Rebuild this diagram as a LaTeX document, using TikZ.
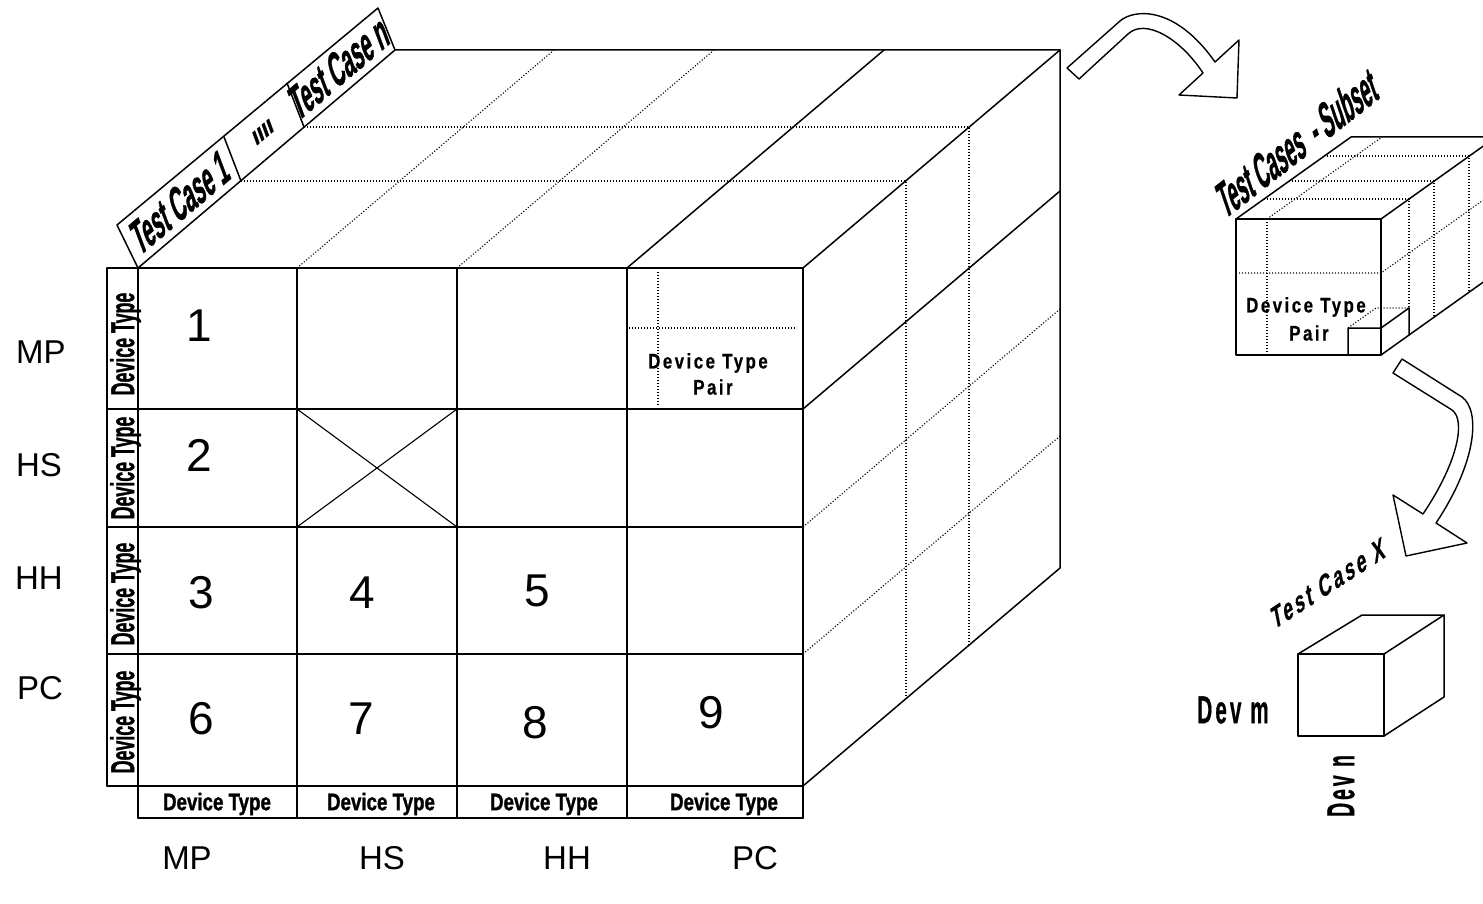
\documentclass[tikz,border=0pt]{standalone}
\usepackage{fontspec}
\setmainfont{Liberation Sans}
\newfontfamily\heavy[FakeBold=1.5]{Liberation Sans}
\newfontfamily\spaced[LetterSpace=15,FakeBold=0.8]{Liberation Sans}
\newcommand{\fsz}[1]{\fontsize{#1}{#1}\selectfont}
\begin{document}
\begin{tikzpicture}[x=1pt,y=-1pt,
  edge/.style={line width=1.5pt,line cap=round,line join=round},
  thinedge/.style={line width=1.1pt,line cap=round},
  dotl/.style={line width=1.1pt,dash pattern=on 1.1pt off 1.9pt},
  lab/.style={inner sep=0pt,font=\fsz{33}},
  num/.style={inner sep=0pt,font=\fsz{46}},
  vdt/.style={inner sep=0pt,rotate=90,xscale=0.54,font=\heavy\bfseries\fsz{33}},
  hdt/.style={inner sep=0pt,xscale=0.78,font=\heavy\bfseries\fsz{24}},
  pair/.style={inner sep=0pt,xscale=0.8,font=\spaced\bfseries\fsz{21}},
  tclab/.style={inner sep=0pt,rotate=40.3,xslant=0.36,xscale=0.5,font=\heavy\bfseries\fsz{44}},
  devlab/.style={inner sep=0pt,xscale=0.53,font=\spaced\bfseries\fsz{39}},
  devlabv/.style={inner sep=0pt,rotate=90,xscale=0.5,font=\spaced\bfseries\fsz{39}},
  blockarrow/.style={line width=1.4pt,line join=round,fill=white},
]
\fill[white] (0,0) rectangle (1483,904);
\useasboundingbox (0,0) rectangle (1483,904);
\clip (0,0) rectangle (1483,904);

% ---------------- main cube: front face ----------------
\foreach \yy in {268,409,527,654,786} \draw[edge] (107,\yy) -- (803,\yy);
\draw[edge] (138,818) -- (803,818);
\draw[edge] (107,268) -- (107,786);
\foreach \xx in {138,297,457,627,803} \draw[edge] (\xx,268) -- (\xx,818);
\draw[thinedge] (297,409) -- (457,527) (297,527) -- (457,409);
\draw[dotl] (658,272) -- (658,405);
\draw[dotl] (629,328) -- (797,328);

% ---------------- main cube: top and right faces ----------------
\draw[edge] (138,268) -- (395,50) -- (1060,50);
\draw[edge] (627,268) -- (884,50);
\draw[edge] (803,268) -- (1060,50) -- (1060,568) -- (803,786);
\draw[edge] (803,409) -- (1060,191);
\draw[dotl] (297,268) -- (554,50);
\draw[dotl] (457,268) -- (714,50);
\draw[dotl] (241,181) -- (906,181) -- (906,699);
\draw[dotl] (304,127) -- (969,127) -- (969,645);
\draw[dotl] (803,527) -- (1060,309);
\draw[dotl] (803,654) -- (1060,436);

% label strip on top
\draw[edge] (138,268) -- (117,225) -- (378,8) -- (395,50);
\draw[edge] (241,181) -- (224,137);
\draw[edge] (304,127) -- (287,83);
\node[tclab] (tc1) at (180,202) {Test Case 1};
\node[tclab,yscale=1.8] (tcdots) at (263,132) {....};
\node[tclab] (tcn) at (339,67) {Test Case n};

% vertical device type labels
\node[vdt] (v1) at (125.5,344) {Device Type};
\node[vdt] (v2) at (125.5,468) {Device Type};
\node[vdt] (v3) at (125.5,594) {Device Type};
\node[vdt] (v4) at (125.5,722) {Device Type};
% bottom device type labels
\node[hdt] (h1) at (217,804) {Device Type};
\node[hdt] (h2) at (381,804) {Device Type};
\node[hdt] (h3) at (544,804) {Device Type};
\node[hdt] (h4) at (724,804) {Device Type};

% row / column names
\node[lab] (rMP) at (41,352) {MP};
\node[lab] (rHS) at (39,465) {HS};
\node[lab] (rHH) at (39,578) {HH};
\node[lab] (rPC) at (40,688) {PC};
\node[lab] (cMP) at (187,858) {MP};
\node[lab] (cHS) at (382,858) {HS};
\node[lab] (cHH) at (567,858) {HH};
\node[lab] (cPC) at (755,858) {PC};

% numbers
\node[num] (n1) at (199,326) {1};
\node[num] (n2) at (199,455) {2};
\node[num] (n3) at (201,593) {3};
\node[num] (n4) at (362,593) {4};
\node[num] (n5) at (537,591) {5};
\node[num] (n6) at (201,719) {6};
\node[num] (n7) at (361,719) {7};
\node[num] (n8) at (535,723) {8};
\node[num] (n9) at (711,713) {9};

% device type pair in cell
\node[pair] (dp1) at (708,363) {Device Type};
\node[pair] (dp2) at (713,387) {Pair};

% ---------------- arrows ----------------
\draw[blockarrow] (1067,68) -- (1120,21) .. controls (1134,9) and (1175,5) .. (1215,62)
  -- (1239,40) -- (1237,98) -- (1179,95) -- (1203,73)
  .. controls (1180,38) and (1145,18) .. (1128,34) -- (1079,79) -- cycle;
\draw[blockarrow] (1402,359) -- (1462,397) .. controls (1480,410) and (1478,460) .. (1436,523)
  -- (1467,543) -- (1406,556) -- (1393,495) -- (1423,514)
  .. controls (1458,462) and (1466,420) .. (1452,410) -- (1393,373) -- cycle;

% ---------------- subset cube ----------------
\draw[edge] (1236,219) rectangle (1381,355);
\draw[edge] (1236,219) -- (1351,137) -- (1496,137);
\draw[edge] (1381,219) -- (1496,137);
\draw[edge] (1381,355) -- (1496,273);
\draw[dotl] (1267,219) -- (1267,355);
\draw[dotl] (1236,273) -- (1381,273) -- (1496,191);
\draw[dotl] (1267,219) -- (1382,137);
\draw[dotl] (1264,199) -- (1409,199) -- (1409,308);
\draw[dotl] (1289,181) -- (1434,181) -- (1434,317);
\draw[dotl] (1324,156) -- (1469,156) -- (1469,292);
\draw[edge] (1348,355) -- (1348,328) -- (1381,328) -- (1409,308) -- (1409,335);
\draw[dotl] (1348,328) -- (1376,308) -- (1409,308);
\node[pair] (sp1) at (1306,307) {Device Type};
\node[pair] (sp2) at (1309,333) {Pair};
\node[inner sep=0pt,rotate=38,xslant=0.35,xscale=0.44,font=\heavy\bfseries\fsz{46}] (subset) at (1297,142) {Test Cases \ - Subset};

% ---------------- test case X cube ----------------
\draw[edge] (1298,654) rectangle (1384,736);
\draw[edge] (1298,654) -- (1362,615) -- (1444,615) -- (1384,654);
\draw[edge] (1444,615) -- (1444,697) -- (1384,736);
\node[inner sep=0pt,rotate=33,xslant=0.4,xscale=0.7,font=\spaced\bfseries\fsz{28}] (tcx) at (1328,583) {Test Case X};
\node[devlab] (devm) at (1233,710) {Dev m};
\node[devlabv] (devn) at (1341,786) {Dev n};
\end{tikzpicture}
\end{document}
